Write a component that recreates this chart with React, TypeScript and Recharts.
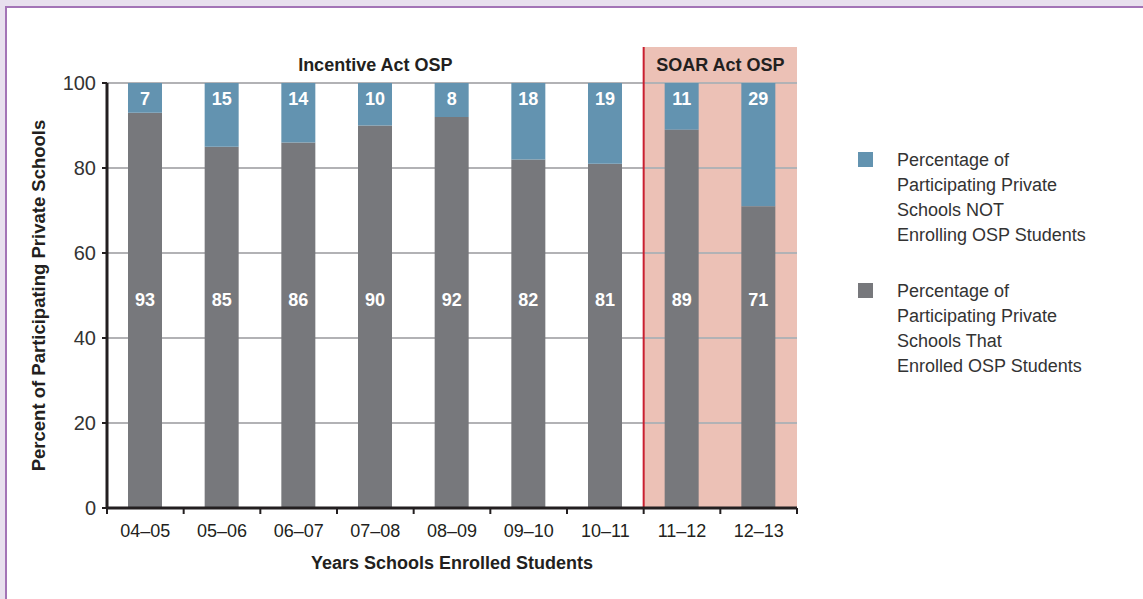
import {
  BarChart,
  Bar,
  XAxis,
  YAxis,
  CartesianGrid,
  Legend,
  LabelList,
  ReferenceArea,
  ReferenceLine,
} from "recharts";

// school years on the x axis
const years = ["04–05", "05–06", "06–07", "07–08", "08–09", "09–10", "10–11", "11–12", "12–13"];
// % of participating private schools that enrolled OSP students
const enrolled = [93, 85, 86, 90, 92, 82, 81, 89, 71];
// % of participating private schools NOT enrolling OSP students
const notEnrolling = [7, 15, 14, 10, 8, 18, 19, 11, 29];
const yTicks = [0, 20, 40, 60, 80, 100];

// program periods shown as headers above the bars
const incentiveYears = ["04–05", "10–11"];
const soarYears = ["11–12", "12–13"];
const HEADER_TOP = 108.5;
const GRAY_LABEL_AT = 49;

const legendNotEnrolling = ["Percentage of", "Participating Private", "Schools NOT", "Enrolling OSP Students"];
const legendEnrolled = ["Percentage of", "Participating Private", "Schools That", "Enrolled OSP Students"];

const BLUE = "#6393b0";
const GRAY = "#77787c";
const PINK = "#ecc1b6";
const RED = "#c91f30";
const INK = "#231f20";
const FONT = "'Liberation Sans', Arial, sans-serif";

const data = years.map((year, i) => ({
  year,
  enrolled: enrolled[i],
  notEnrolling: notEnrolling[i],
}));

function XTick(props: any) {
  const { x, y, payload, index, visibleTicksCount } = props;
  const half = payload?.offset || 690 / years.length / 2;
  const axisY = y - 15;
  return (
    <g>
      <line x1={x - half} x2={x - half} y1={axisY} y2={axisY + 6} stroke={INK} strokeWidth={2} />
      {index === visibleTicksCount - 1 && (
        <line x1={x + half} x2={x + half} y1={axisY} y2={axisY + 6} stroke={INK} strokeWidth={2} />
      )}
      <text x={x} y={y + 14} textAnchor="middle" fill={INK} fontSize={18} fontFamily={FONT}>
        {payload.value}
      </text>
    </g>
  );
}

function YTitle(props: any) {
  const vb = props.viewBox || {};
  const cx = 38;
  const cy = vb.y + vb.height / 2;
  return (
    <text
      x={cx}
      y={cy}
      transform={`rotate(-90, ${cx}, ${cy})`}
      textAnchor="middle"
      dominantBaseline="central"
      fill={INK}
      fontSize={18.5}
      fontWeight={700}
      fontFamily={FONT}
    >
      Percent of Participating Private Schools
    </text>
  );
}

const topLabel = (p: any) => {
  const x = Number(p.x), y = Number(p.y), w = Number(p.width);
  return (
    <text x={x + w / 2} y={y + 22} textAnchor="middle" fill="#fff" fontSize={18} fontWeight={700} fontFamily={FONT}>
      {p.value}
    </text>
  );
};

const midLabel = (p: any) => {
  const x = Number(p.x), y = Number(p.y), w = Number(p.width), h = Number(p.height);
  const bottom = y + h;
  const ly = bottom - (h / Number(p.value)) * GRAY_LABEL_AT;
  return (
    <text x={x + w / 2} y={ly + 6} textAnchor="middle" fill="#fff" fontSize={18} fontWeight={700} fontFamily={FONT}>
      {p.value}
    </text>
  );
};

const legendItems = [
  { color: BLUE, lines: legendNotEnrolling },
  { color: GRAY, lines: legendEnrolled },
];

const renderLegend = () => (
  <div style={{ fontFamily: FONT, fontSize: 18, lineHeight: "25px", color: "#333" }}>
    {legendItems.map((it, i) => (
      <div key={i} style={{ position: "relative", paddingLeft: 39, marginBottom: i === 0 ? 31 : 0 }}>
        <span style={{ position: "absolute", left: 0, top: 4, width: 15, height: 15, background: it.color }} />
        {it.lines.map((l) => (
          <div key={l}>{l}</div>
        ))}
      </div>
    ))}
  </div>
);

const headerLabel = (value: string) => ({
  value,
  position: "insideTop" as const,
  offset: 11,
  fill: INK,
  fontSize: 18,
  fontWeight: 700,
  fontFamily: FONT,
});

export default function App() {
  return (
    <div style={{ position: "fixed", left: 0, top: 0, width: 1143, height: 599, background: "#e8e0ee", overflow: "hidden" }}>
      <div
        style={{
          position: "absolute",
          left: 5,
          top: 6,
          width: 1200,
          height: 700,
          background: "#fff",
          border: "2px solid #a374b6",
          boxSizing: "border-box",
        }}
      />
      <div style={{ position: "absolute", left: 0, top: 0 }}>
        <BarChart
          width={1143}
          height={599}
          data={data}
          margin={{ top: 83, right: 346, left: 32, bottom: 21 }}
          barSize={34}
        >
          <ReferenceArea
            x1={soarYears[0]}
            x2={soarYears[1]}
            y1={0}
            y2={HEADER_TOP}
            fill={PINK}
            fillOpacity={1}
            stroke="none"
            ifOverflow="visible"
            zIndex={-200}
            label={headerLabel("SOAR Act OSP")}
          />
          <ReferenceArea
            x1={incentiveYears[0]}
            x2={incentiveYears[1]}
            y1={100}
            y2={HEADER_TOP}
            fill="#fff"
            fillOpacity={0}
            stroke="none"
            ifOverflow="visible"
            zIndex={-200}
            label={headerLabel("Incentive Act OSP")}
          />
          <CartesianGrid vertical={false} stroke="#b2b2b5" strokeWidth={2} />
          <ReferenceLine
            segment={[
              { x: soarYears[0], y: 0 },
              { x: soarYears[0], y: HEADER_TOP },
            ]}
            position="start"
            stroke={RED}
            strokeWidth={2}
            ifOverflow="visible"
          />
          <XAxis
            dataKey="year"
            height={70}
            interval={0}
            tickLine={false}
            tickSize={0}
            tickMargin={15}
            axisLine={{ stroke: INK, strokeWidth: 3 }}
            tick={<XTick />}
            label={{
              value: "Years Schools Enrolled Students",
              position: "insideBottom",
              offset: 9,
              fill: INK,
              fontSize: 18,
              fontWeight: 700,
              fontFamily: FONT,
            }}
          />
          <YAxis
            width={75}
            domain={[0, 100]}
            ticks={yTicks}
            interval={0}
            tickSize={5}
            tickMargin={6}
            tickLine={{ stroke: INK, strokeWidth: 2 }}
            axisLine={{ stroke: INK, strokeWidth: 3 }}
            tick={{ fill: "#333", fontSize: 20, fontFamily: FONT }}
            label={<YTitle />}
          />
          <Legend
            layout="vertical"
            align="center"
            verticalAlign="middle"
            content={renderLegend}
            wrapperStyle={{ left: 858, top: 148, width: 280 }}
          />
          <Bar dataKey="enrolled" stackId="a" fill={GRAY} isAnimationActive={false}>
            <LabelList dataKey="enrolled" content={midLabel} />
          </Bar>
          <Bar dataKey="notEnrolling" stackId="a" fill={BLUE} isAnimationActive={false}>
            <LabelList dataKey="notEnrolling" content={topLabel} />
          </Bar>
        </BarChart>
      </div>
    </div>
  );
}
